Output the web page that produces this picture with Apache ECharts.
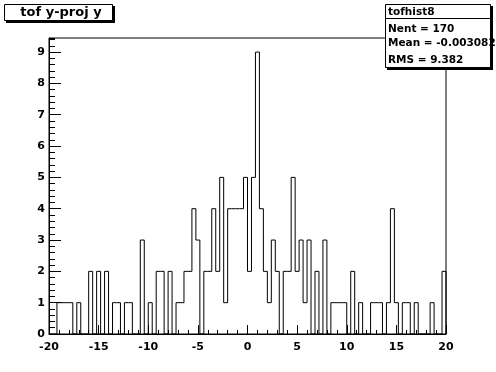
<!DOCTYPE html>
<html><head><meta charset="utf-8">
<script src="https://cdn.jsdelivr.net/npm/echarts@6/dist/echarts.min.js"></script>
<style>html,body{margin:0;padding:0;background:#fff}#c{width:496px;height:372px}</style>
</head><body><div id="c"></div>
<script>
// histogram binning (100 bins from -20 to 20)
const binLow = -20;
const binWidth = 0.4;
const counts = [
  0,0,1,1,1,1,0,1,0,0,
  2,0,2,0,2,0,1,1,0,1,
  1,0,0,3,0,1,0,2,2,0,
  2,0,1,1,2,2,4,3,0,2,
  2,4,2,5,1,4,4,4,4,5,
  2,5,9,4,2,1,3,2,0,2,
  2,5,2,3,1,3,0,2,0,3,
  0,1,1,1,1,0,2,0,1,0,
  0,1,1,1,0,1,4,1,0,1,
  1,0,1,0,0,0,1,0,0,2
];
const xMin = -20, xMax = 20, xStep = 5;
const yMin = 0, yMax = 9.45, yStep = 1, yMinorStep = 0.2;
const titleText = 'tof y-proj y';
const statsName = 'tofhist8';
const statsLines = ['Nent = 170', 'Mean = -0.003082', 'RMS = 9.382'];

const pts = counts.map((c, i) => [+(binLow + i * binWidth).toFixed(4), c]);
pts.push([xMax, counts[counts.length - 1]]);
pts.push([xMax, 0]);

const FONT = 'DejaVu Sans';
const chart = echarts.init(document.getElementById('c'), null, {renderer: 'canvas'});
chart.setOption({
  animation: false,
  backgroundColor: '#fff',
  grid: {left: 49, right: 50, top: 38, bottom: 38, show: true, borderColor: '#000', borderWidth: 1,
         backgroundColor: 'transparent', containLabel: false, outerBoundsMode: 'none'},
  xAxis: {
    type: 'value', min: xMin, max: xMax, interval: xStep,
    axisLine: {show: true, onZero: false, lineStyle: {color: '#000', width: 1}},
    axisTick: {show: true, inside: true, length: 9, lineStyle: {color: '#000'}},
    minorTick: {show: true, splitNumber: 5, length: 4, lineStyle: {color: '#000'}},
    splitLine: {show: false},
    axisLabel: {color: '#000', fontFamily: FONT, fontWeight: 'bold', fontSize: 11, margin: 8}
  },
  yAxis: [{
    type: 'value', min: yMin, max: yMax, interval: yMinorStep, position: 'left', offset: 0,
    axisLine: {show: true, onZero: false, lineStyle: {color: '#000', width: 1}},
    axisTick: {show: true, inside: true, length: 6, lineStyle: {color: '#000'}},
    splitLine: {show: false},
    axisLabel: {show: false}
  }, {
    type: 'value', min: yMin, max: yMax, interval: yStep, position: 'left', offset: 0,
    axisLine: {show: false, onZero: false},
    axisTick: {show: true, inside: true, length: 12, lineStyle: {color: '#000'}},
    splitLine: {show: false},
    axisLabel: {color: '#000', fontFamily: FONT, fontWeight: 'bold', fontSize: 11, margin: 4,
                showMaxLabel: false}
  }],
  series: [{
    type: 'line', step: 'end', data: pts, xAxisIndex: 0, yAxisIndex: 1,
    symbol: 'none', lineStyle: {color: '#000', width: 1}, silent: true
  }],
  graphic: [
    {type: 'rect', z: 100, shape: {x: 6, y: 6, width: 109, height: 17}, style: {fill: '#000'}},
    {type: 'rect', z: 101, shape: {x: 4.5, y: 4.5, width: 108, height: 16}, style: {fill: '#fff', stroke: '#000', lineWidth: 1}},
    {type: 'text', z: 102, x: 61, y: 13, style: {text: titleText, font: 'bold 13px "DejaVu Sans"', fill: '#000', align: 'center', verticalAlign: 'middle'}},
    {type: 'rect', z: 100, shape: {x: 387, y: 6, width: 106, height: 64}, style: {fill: '#000'}},
    {type: 'rect', z: 101, shape: {x: 385.5, y: 4.5, width: 105, height: 63}, style: {fill: '#fff', stroke: '#000', lineWidth: 1}},
    {type: 'line', z: 102, shape: {x1: 385.5, y1: 18.5, x2: 490.5, y2: 18.5}, style: {stroke: '#000', lineWidth: 1}},
    {type: 'text', z: 102, x: 388, y: 12, style: {text: statsName, font: 'bold 10.5px "DejaVu Sans"', fill: '#000', verticalAlign: 'middle'}},
    {type: 'text', z: 102, x: 388, y: 29, style: {text: statsLines[0], font: 'bold 10.5px "DejaVu Sans"', fill: '#000', verticalAlign: 'middle'}},
    {type: 'text', z: 102, x: 388, y: 43, style: {text: statsLines[1], font: 'bold 10.5px "DejaVu Sans"', fill: '#000', verticalAlign: 'middle'}},
    {type: 'text', z: 102, x: 388, y: 60, style: {text: statsLines[2], font: 'bold 10.5px "DejaVu Sans"', fill: '#000', verticalAlign: 'middle'}}
  ]
});
</script>
</body></html>
